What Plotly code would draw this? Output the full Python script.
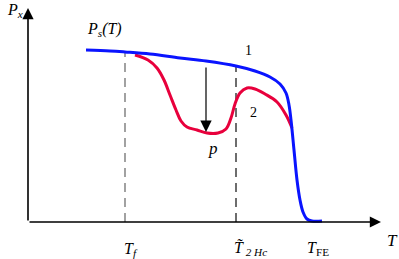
import plotly.graph_objects as go

# Data (T in arbitrary units, P = height above T axis)
blue_T = [86, 110, 125, 150, 180, 206, 236, 255, 270, 280, 286, 289, 291, 294, 297, 300, 303, 307, 312, 322]
blue_P = [172, 171, 170, 168, 164, 161, 156, 151, 145, 138, 129, 117, 102, 72, 42, 22, 10, 3, 1, 1]
red_T = [135, 148, 157, 164, 170, 176, 181, 187, 197, 207, 218, 226, 231, 235, 240, 247, 255, 265, 277, 286, 292]
red_P = [167, 162, 154, 142, 127, 112, 101, 95, 92, 89, 89, 93, 104, 118, 129, 134, 133, 128, 120, 107, 94]
T_f = 125
T_f_top = 170
T_2Hc = 236
T_2Hc_top = 156
arrow_T = 206
arrow_from = 156
arrow_to = 90

SERIF = "Liberation Serif"
fig = go.Figure()
fig.add_trace(go.Scatter(x=[T_f, T_f], y=[0, T_f_top], mode="lines",
                         line=dict(color="#707070", width=1.3, dash="9px,6px"), hoverinfo="skip"))
fig.add_trace(go.Scatter(x=[T_2Hc, T_2Hc], y=[0, T_2Hc_top], mode="lines",
                         line=dict(color="#202020", width=1.3, dash="9px,6px"), hoverinfo="skip"))
fig.add_trace(go.Scatter(x=red_T, y=red_P, mode="lines", line=dict(color="#e8003c", width=3, shape="spline"),
                         hoverinfo="skip"))
fig.add_trace(go.Scatter(x=blue_T, y=blue_P, mode="lines", line=dict(color="#0a14ff", width=3, shape="spline"),
                         hoverinfo="skip"))

annotations = [
    # axes
    dict(x=381, y=0, ax=28, ay=0, xref="x", yref="y", axref="x", ayref="y", showarrow=True,
         arrowhead=2, arrowsize=1.4, arrowwidth=1.6, arrowcolor="black", text=""),
    dict(x=28, y=214, ax=28, ay=0, xref="x", yref="y", axref="x", ayref="y", showarrow=True,
         arrowhead=2, arrowsize=1.4, arrowwidth=1.6, arrowcolor="black", text=""),
    # arrow p
    dict(x=arrow_T, y=arrow_to, ax=arrow_T, ay=arrow_from, xref="x", yref="y", axref="x", ayref="y",
         showarrow=True, arrowhead=2, arrowsize=1.9, arrowwidth=1.2, arrowcolor="black", text=""),
]
labels = [
    ("<i>P</i><sub><i>x</i></sub>", 15, 212, 16),
    ("<i>P</i><sub><i>s</i></sub><i>(T)</i>", 104, 193, 16),
    ("1", 248, 172, 14),
    ("2", 253, 110, 14),
    ("<i>p</i>", 213, 74, 17),
    ("<i>T</i>", 392, -18, 17),
    ("<i>T</i><sub><i>f</i></sub>", 131, -27, 16),
    ("<i>T\u0303</i><sub><i> 2 Hc</i></sub>", 250, -26, 16),
    ("<i>T</i><sub>FE</sub>", 318, -26, 16),
]
for txt, x, y, s in labels:
    annotations.append(dict(x=x, y=y, xref="x", yref="y", text=txt, showarrow=False,
                            font=dict(family=SERIF, size=s, color="black")))

fig.update_layout(
    width=399, height=259, margin=dict(l=0, r=0, t=0, b=0),
    paper_bgcolor="white", plot_bgcolor="white", showlegend=False,
    xaxis=dict(range=[0, 399], visible=False, fixedrange=True),
    yaxis=dict(range=[-37, 222], visible=False, fixedrange=True),
    annotations=annotations,
)
fig.write_html("out.html", config={"displayModeBar": False},
               post_script="document.body.style.margin='0';document.body.style.overflow='hidden';")
